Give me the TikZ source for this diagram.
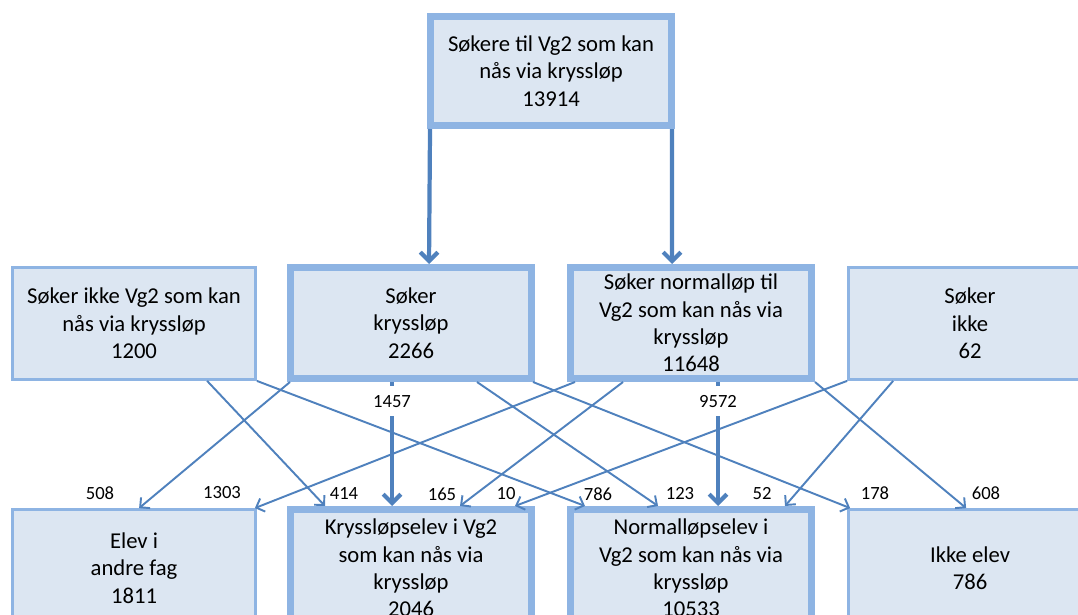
\documentclass[tikz,border=0pt]{standalone}
\usepackage{fontspec}
\setmainfont{Carlito}
\usetikzlibrary{arrows.meta,calc}
\definecolor{boxfill}{HTML}{DCE6F2}
\definecolor{boxline}{HTML}{8EB4E3}
\definecolor{flowblue}{HTML}{4F81BD}

\begin{document}
\begin{tikzpicture}[x=0.02cm, y=-0.02cm,
  box/.style={draw=boxline, fill=boxfill, align=center, inner sep=1pt,
    font=\fontsize{12.9}{15.6}\selectfont, line width=1.6pt,
    minimum width=4.86cm},
  mainbox/.style={box, line width=4pt, minimum width=4.82cm},
  flow/.style={draw=flowblue, line width=1.1pt,
    -{Straight Barb[length=4pt,width=8pt]}},
  mainflow/.style={flow, line width=2.4pt,
    -{Straight Barb[length=5pt,width=10pt]}},
  numlab/.style={font=\fontsize{10.6}{12}\selectfont, inner sep=1pt}]
  \useasboundingbox (0,0) rectangle (1078,615);
  \clip (0,0) rectangle (1078,615);
  % all applicants
  \node[mainbox, minimum height=2.18cm] (top) at (551,71)
    {Søkere til Vg2 som kan\\nås via kryssløp\\13914};
  % what they applied for
  \node[box, minimum height=2.24cm] (M1) at (134,323.5)
    {Søker ikke Vg2 som kan\\nås via kryssløp\\1200};
  \node[mainbox, minimum height=2.22cm] (M2) at (411,323)
    {Søker\\kryssløp\\2266};
  \node[mainbox, minimum height=2.22cm] (M3) at (691,323)
    {Søker normalløp til\\Vg2 som kan nås via\\kryssløp\\11648};
  \node[box, minimum height=2.24cm] (M4) at (970,323.5)
    {Søker\\ikke\\62};
  % where they ended up
  \node[box, minimum height=2.34cm] (B1) at (134,568)
    {Elev i\\andre fag\\1811};
  \node[mainbox, minimum height=2.34cm] (B2) at (411,568)
    {Kryssløpselev i Vg2\\som kan nås via\\kryssløp\\2046};
  \node[mainbox, minimum height=2.34cm] (B3) at (691,568)
    {Normalløpselev i\\Vg2 som kan nås via\\kryssløp\\10533};
  \node[box, minimum height=2.34cm] (B4) at (970,568)
    {Ikke elev\\786};
  % split of all applicants
  \draw[mainflow] ($(top.south west)+(3,0)$) -- ($(M2.north west)+(142,0)$);
  \draw[mainflow] ($(top.south east)+(-3,0)$) -- ($(M3.north west)+(105,0)$);
  % flows to the bottom row
  \draw[flow] ($(M1.south west)+(196,0)$) -- ($(B2.north west)+(38,0)$);
  \draw[flow] (M1.south east) -- ($(B3.north west)+(18,0)$);
  \draw[flow] ($(M2.south west)+(3,0)$) -- ($(B1.north west)+(128,0)$);
  \draw[flow] ($(M2.south west)+(190,0)$) -- ($(B3.north west)+(91,0)$);
  \draw[flow] ($(M2.south east)+(-2,0)$) -- ($(B4.north west)+(3,0)$);
  \draw[flow] ($(M3.south west)+(8,0)$) -- ($(B1.north east)+(-2,0)$);
  \draw[flow] ($(M3.south west)+(56,0)$) -- ($(B2.north west)+(173,0)$);
  \draw[flow] (M3.south east) -- ($(B4.north west)+(119,0)$);
  \draw[flow] (M4.south west) -- ($(B2.north west)+(228,0)$);
  \draw[flow] ($(M4.south west)+(46,0)$) -- ($(B3.north west)+(218,0)$);
  \draw[mainflow] ($(M2.south west)+(105,0)$) -- ($(B2.north west)+(105,0)$)
    node[numlab, fill=white, pos=0.155, minimum width=1.2cm, minimum height=0.6cm] (n1457) {1457};
  \draw[mainflow] ($(M3.south west)+(151,0)$) -- ($(B3.north west)+(151,0)$)
    node[numlab, fill=white, pos=0.155, minimum width=1.2cm, minimum height=0.6cm] (n9572) {9572};
  % counts at the arrow tips
  \node[numlab] (n508)  at (100,493) {508};
  \node[numlab] (n1303) at (222,493) {1303};
  \node[numlab] (n414)  at (344,494) {414};
  \node[numlab] (n165)  at (442,494) {165};
  \node[numlab] (n10)   at (506,494) {10};
  \node[numlab] (n786)  at (598,494) {786};
  \node[numlab] (n123)  at (680,494) {123};
  \node[numlab] (n52)   at (762,494) {52};
  \node[numlab] (n178)  at (875,493) {178};
  \node[numlab] (n608)  at (986,493) {608};
\end{tikzpicture}
\end{document}
